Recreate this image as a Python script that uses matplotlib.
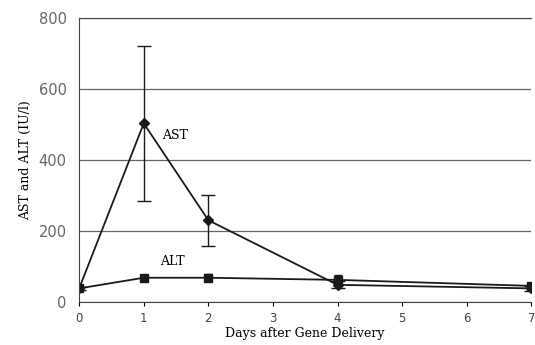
import numpy as np
import matplotlib.pyplot as plt

# Data
days = [0, 1, 2, 4, 7]
ast = [38, 503, 230, 48, 38]
ast_err = [5, 218, 72, 10, 8]
alt = [38, 68, 68, 62, 45]
alt_err = [5, 8, 10, 15, 8]

fig = plt.figure(figsize=(5.35, 3.45), dpi=100)
ax = fig.add_axes([0.148, 0.125, 0.845, 0.823])

ax.errorbar(days, ast, yerr=ast_err, color='#1a1a1a', marker='D', markersize=5.5,
            linewidth=1.3, elinewidth=1.0, capsize=5, capthick=1.0)
ax.errorbar(days, alt, yerr=alt_err, color='#1a1a1a', marker='s', markersize=5.5,
            linewidth=1.3, elinewidth=1.0, capsize=3, capthick=1.0)

ax.text(1.28, 470, 'AST', family='serif', fontsize=9, va='center')
ax.text(1.25, 115, 'ALT', family='serif', fontsize=9, va='center')

ax.set_xlim(0, 7)
ax.set_ylim(0, 800)
ax.set_xticks(range(8))
ax.set_yticks([0, 200, 400, 600, 800])
ax.grid(axis='y', color='#666666', linewidth=0.9)
ax.tick_params(axis='y', length=0, labelsize=10.5, labelcolor='#666666', pad=9)
ax.tick_params(axis='x', length=3, labelsize=8.5, labelcolor='#444444', pad=4)
for s in ['top', 'left', 'bottom']:
    ax.spines[s].set_color('#444444')
ax.spines['right'].set_visible(False)

ax.set_xlabel('Days after Gene Delivery', family='serif', fontsize=9, labelpad=2)
ax.set_ylabel('AST and ALT (IU/l)', family='serif', fontsize=9, labelpad=5)

fig.savefig('out.png', dpi=100)
